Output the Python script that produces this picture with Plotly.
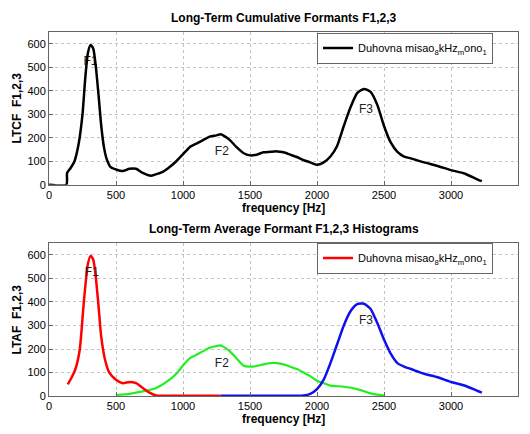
import plotly.graph_objects as go

# Top: Long-Term Cumulative Formants (black)
ltcf_freq = [0, 130, 135, 160, 190, 220, 250, 270, 290, 310, 330, 350, 370, 390, 410, 430, 460, 500, 550, 600, 650, 700, 760, 800, 850, 900, 950, 1000, 1050, 1100, 1150, 1200, 1250, 1280, 1300, 1350, 1400, 1450, 1500, 1550, 1600, 1650, 1700, 1750, 1800, 1850, 1900, 1950, 2000, 2050, 2100, 2150, 2200, 2250, 2300, 2350, 2400, 2450, 2500, 2550, 2600, 2650, 2700, 2800, 2900, 3000, 3100, 3200, 3230]
ltcf_vals = [0, 0, 50, 70, 100, 170, 300, 450, 560, 595, 580, 500, 380, 250, 160, 110, 75, 65, 58, 68, 68, 50, 38, 45, 55, 75, 100, 130, 160, 175, 190, 205, 210, 215, 210, 190, 160, 135, 125, 128, 138, 140, 142, 138, 128, 118, 105, 95, 85, 95, 120, 165, 250, 330, 390, 408, 395, 340, 250, 180, 140, 120, 112, 95, 80, 62, 48, 22, 15]

# Bottom: Long-Term Average Formant histograms
f1_freq = [140, 170, 200, 230, 260, 290, 310, 330, 350, 370, 390, 420, 450, 500, 550, 600, 650, 700, 750, 800, 850, 1000, 1280]
f1_vals = [50, 80, 120, 200, 400, 560, 595, 580, 500, 380, 250, 150, 100, 70, 55, 60, 55, 35, 15, 3, 2, 2, 2]
f2_freq = [500, 600, 700, 800, 900, 950, 1000, 1050, 1100, 1200, 1280, 1300, 1350, 1400, 1450, 1500, 1550, 1600, 1650, 1700, 1750, 1800, 1850, 1900, 1950, 2000, 2050, 2100, 2200, 2300, 2400, 2500]
f2_vals = [5, 10, 20, 35, 70, 95, 130, 160, 175, 205, 215, 210, 190, 160, 130, 125, 128, 135, 140, 140, 135, 125, 115, 100, 85, 65, 55, 45, 40, 30, 12, 2]
f3_freq = [1280, 1600, 1900, 1950, 2000, 2050, 2100, 2150, 2200, 2250, 2300, 2350, 2400, 2450, 2500, 2550, 2600, 2650, 2700, 2800, 2900, 3000, 3100, 3200, 3230]
f3_vals = [2, 2, 3, 10, 30, 70, 140, 220, 300, 360, 390, 392, 370, 310, 240, 180, 140, 125, 115, 95, 80, 60, 45, 22, 15]

x_ticks = [0, 500, 1000, 1500, 2000, 2500, 3000, 3500]
y_ticks = [0, 100, 200, 300, 400, 500, 600]
top_labels = ["F1", "F2", "F3"]
top_label_x = [310, 1290, 2366]
top_label_y = [522, 139, 316]
bot_label_x = [320, 1290, 2366]
bot_label_y = [523, 136, 317]

legend_name = "Duhovna misao<sub>8</sub>kHz<sub>m</sub>ono<sub>1</sub>"
FONT = "Liberation Sans, Arial, sans-serif"

fig = go.Figure()
# labels drawn first so curves cover them
fig.add_trace(go.Scatter(x=top_label_x, y=top_label_y, text=top_labels, mode="text",
                         textfont=dict(size=12, color="#222", family=FONT), showlegend=False,
                         xaxis="x", yaxis="y", hoverinfo="skip"))
fig.add_trace(go.Scatter(x=ltcf_freq, y=ltcf_vals, mode="lines", line=dict(color="black", width=2.5, shape="spline", smoothing=0.6),
                         name=legend_name, legend="legend", xaxis="x", yaxis="y"))
fig.add_trace(go.Scatter(x=f2_freq, y=f2_vals, mode="lines", line=dict(color="#22ee22", width=2.2, shape="spline", smoothing=0.6),
                         showlegend=False, xaxis="x2", yaxis="y2"))
fig.add_trace(go.Scatter(x=f3_freq, y=f3_vals, mode="lines", line=dict(color="#1010ee", width=2.5, shape="spline", smoothing=0.6),
                         showlegend=False, xaxis="x2", yaxis="y2"))
fig.add_trace(go.Scatter(x=f1_freq, y=f1_vals, mode="lines", line=dict(color="#ff0000", width=2.5, shape="spline", smoothing=0.6),
                         name=legend_name, legend="legend2", xaxis="x2", yaxis="y2"))
fig.add_trace(go.Scatter(x=bot_label_x, y=bot_label_y, text=top_labels, mode="text",
                         textfont=dict(size=12, color="#222", family=FONT), showlegend=False,
                         xaxis="x2", yaxis="y2", hoverinfo="skip"))

axis_common = dict(showgrid=True, gridcolor="#c4c4c4", griddash="dot", gridwidth=1,
                   showline=True, linecolor="#666", linewidth=1, mirror=True,
                   ticks="inside", ticklen=4, tickcolor="#666", zeroline=False,
                   tickfont=dict(size=11, color="black", family=FONT))

fig.update_layout(
    width=530, height=434, margin=dict(l=49, r=12, t=0, b=0),
    paper_bgcolor="white", plot_bgcolor="white",
    font=dict(family=FONT, color="black"),
    xaxis=dict(domain=[0, 1], range=[0, 3500], tickvals=x_ticks, anchor="y", **axis_common),
    yaxis=dict(domain=[0.5684, 0.9251], range=[0, 650], tickvals=y_ticks, anchor="x", **axis_common),
    xaxis2=dict(domain=[0, 1], range=[0, 3500], tickvals=x_ticks, anchor="y2", **axis_common),
    yaxis2=dict(domain=[0.0744, 0.4325], range=[0, 650], tickvals=y_ticks, anchor="x2", **axis_common),
    legend=dict(x=(317 - 49) / 469, y=1 - 33 / 434, xanchor="left", yanchor="top", bordercolor="#666", borderwidth=1,
                bgcolor="white", font=dict(size=11, family=FONT), itemwidth=30, tracegroupgap=0),
    legend2=dict(x=(317 - 49) / 469, y=1 - 246 / 434, xanchor="left", yanchor="top", bordercolor="#666", borderwidth=1,
                 bgcolor="white", font=dict(size=11, family=FONT), itemwidth=30, tracegroupgap=0),
    showlegend=True,
)

annots = [
    dict(text="<b>Long-Term Cumulative Formants F1,2,3</b>", x=0.5, y=1 - 18 / 434),
    dict(text="<b>frequency [Hz]</b>", x=0.5, y=1 - 211 / 434),
    dict(text="<b>Long-Term Average Formant F1,2,3 Histograms</b>", x=0.5, y=1 - 232 / 434),
    dict(text="<b>frequency [Hz]</b>", x=0.5, y=1 - 425 / 434),
]
for a in annots:
    fig.add_annotation(xref="paper", yref="paper", showarrow=False, xanchor="center", yanchor="middle",
                       font=dict(size=12, family=FONT, color="black"), **a)
fig.add_annotation(text="<b>LTCF  F1,2,3</b>", xref="paper", yref="paper", x=-32 / 469, xanchor="center",
                   y=1 - 110 / 434, yanchor="middle", textangle=-90, showarrow=False,
                   font=dict(size=12, family=FONT, color="black"))
fig.add_annotation(text="<b>LTAF  F1,2,3</b>", xref="paper", yref="paper", x=-32 / 469, xanchor="center",
                   y=1 - 324 / 434, yanchor="middle", textangle=-90, showarrow=False,
                   font=dict(size=12, family=FONT, color="black"))

fig.write_html("out.html")
